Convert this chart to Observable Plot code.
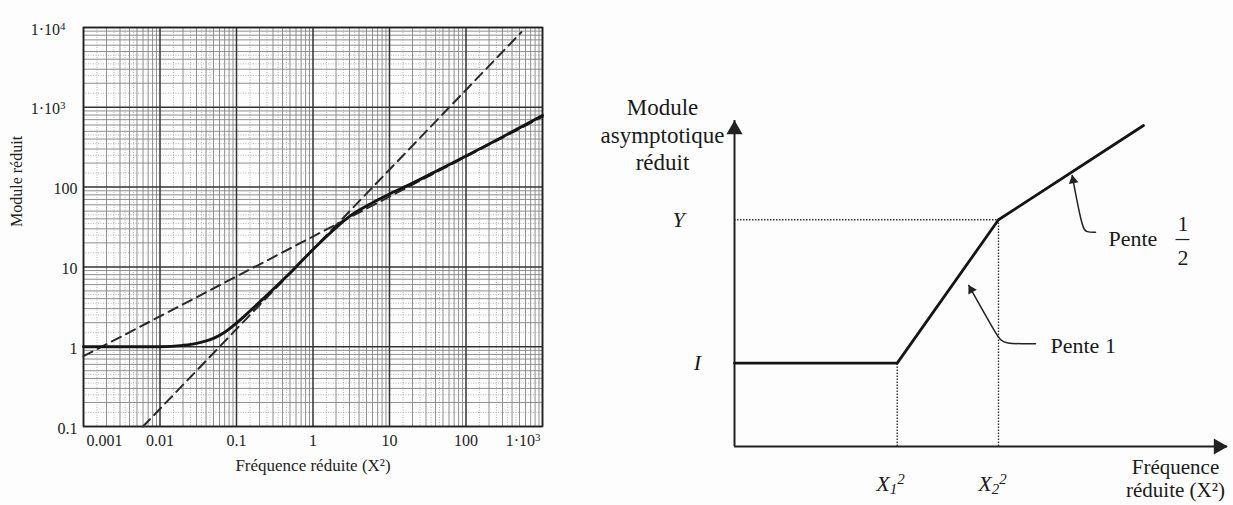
<!DOCTYPE html>
<html><head><meta charset="utf-8">
<script src="https://cdn.jsdelivr.net/npm/d3@7"></script>
<script src="https://cdn.jsdelivr.net/npm/@observablehq/plot@0.6"></script>
<style>
body{margin:0;background:#fdfdfd;}
#wrap{position:relative;width:1233px;height:505px;overflow:hidden;font-family:"Liberation Serif",serif;}
#left{position:absolute;left:0;top:0;}
#right{position:absolute;left:560px;top:0;}
svg text{font-family:"Liberation Serif",serif;}
</style></head><body><div id="wrap"><div id="left"></div><div id="right"></div></div>
<script>
// ---------- Left chart data (log-log) ----------
const xTickValues = [0.001, 0.01, 0.1, 1, 10, 100, 1000];
const xTickLabels = ["0.001", "0.01", "0.1", "1", "10", "100", "1·10^3"];
const yTickValues = [0.1, 1, 10, 100, 1000, 10000];
const yTickLabels = ["0.1", "1", "10", "100", "1·10^3", "1·10^4"];
const xTitle = "Fréquence réduite (X²)";
const yTitle = "Module réduit";

const freq   = [0.001, 0.005, 0.01, 0.02, 0.03, 0.05, 0.07, 0.1, 0.15, 0.23, 0.4, 0.6, 1, 1.5, 2, 3, 5, 7, 10, 20, 50, 100, 300, 1000];
const module = [1.0, 1.0, 1.0, 1.04, 1.1, 1.27, 1.52, 1.98, 2.8, 4.1, 6.8, 10, 16.5, 24, 31, 43, 58, 69, 82, 112, 175, 245, 425, 790];

const asymSlope1X = [0.006, 530];
const asymSlope1Y = [0.1, 8750];
const asymHalfX = [0.001, 1000];
const asymHalfY = [0.76, 760];

// ---------- Right chart data (schematic) ----------
const levelI = 0.581, levelY = 1.581;
const x1sq = 1.627, x2sq = 2.64;
const asymX = [0, x1sq, x2sq, 4.09];
const asymY = [levelI, levelI, levelY, 2.238];
const axisXEnd = 4.93, axisYEnd = 2.273;
const leader1X = [2.343, 2.64, 2.69, 3.01];
const leader1Y = [1.123, 0.753, 0.716, 0.716];
const leaderHalfX = [3.377, 3.477, 3.52, 3.61];
const leaderHalfY = [1.890, 1.520, 1.494, 1.494];
const yAxisTitle = "Module\nasymptotique\nréduit";
const xAxisTitle = "Fréquence\nréduite (X²)";

// ---------- helpers ----------
const SERIF = "Liberation Serif, Times New Roman, serif";
const zip = (xs, ys) => xs.map((x, i) => ({x, y: ys[i]}));
function decadeMultiples(lo, hi, mults) {
  const out = [];
  for (let e = Math.floor(Math.log10(lo)); e <= Math.ceil(Math.log10(hi)); e++) {
    for (const m of mults) { const v = m * Math.pow(10, e); if (v > lo * 1.0001 && v < hi * 0.9999) out.push(v); }
  }
  return out;
}
function richText(svg) {
  svg.querySelectorAll("text, tspan").forEach(el => {
    if (el.children.length) return;
    const s = el.textContent;
    if (!/[_^]/.test(s)) return;
    el.textContent = "";
    const re = /([_^])(.)/g; let last = 0, m;
    const add = (txt, kind) => {
      if (!txt) return;
      const t = document.createElementNS("http://www.w3.org/2000/svg", "tspan");
      t.textContent = txt;
      if (kind) { t.setAttribute("baseline-shift", kind === "^" ? "48%" : "-22%"); t.setAttribute("font-size", "68%"); }
      el.appendChild(t);
    };
    while ((m = re.exec(s))) { add(s.slice(last, m.index)); add(m[2], m[1]); last = re.lastIndex; }
    add(s.slice(last));
  });
}

// ---------- Left chart ----------
const xMinor = decadeMultiples(0.001, 1000, [2,3,4,5,6,7,8,9]);
const yMinor = decadeMultiples(0.1, 10000, [2,3,4,5,6,7,8,9]);
const xFine = decadeMultiples(0.001, 1000, [1.5,2.5,3.5,4.5]);
const yFine = decadeMultiples(0.1, 10000, [1.5,2.5,3.5,4.5]);
const xt = xTickValues.map((v, i) => ({v, label: xTickLabels[i], i}));
const yt = yTickValues.map((v, i) => ({v, label: yTickLabels[i]}));
const tl = {fontFamily: SERIF, fontSize: 16, fill: "#222"};

const left = Plot.plot({
  width: 570, height: 505,
  marginLeft: 83, marginRight: 28, marginTop: 27, marginBottom: 79,
  x: {type: "log", domain: [0.001, 1000], axis: null},
  y: {type: "log", domain: [0.1, 10000], axis: null},
  style: {fontFamily: SERIF, fontSize: "16px", background: "transparent", color: "#222", overflow: "visible"},
  marks: [
    Plot.ruleX(xFine, {stroke: "#9a9a9a", strokeWidth: 0.7, strokeDasharray: "1,1.5"}),
    Plot.ruleY(yFine, {stroke: "#9a9a9a", strokeWidth: 0.7, strokeDasharray: "1,1.5"}),
    Plot.ruleX(xMinor, {stroke: "#858585", strokeWidth: 0.9}),
    Plot.ruleY(yMinor, {stroke: "#858585", strokeWidth: 0.9}),
    Plot.ruleX(xTickValues, {stroke: "#333", strokeWidth: 1.5}),
    Plot.ruleY(yTickValues, {stroke: "#333", strokeWidth: 1.5}),
    Plot.frame({stroke: "#222", strokeWidth: 1.6}),
    Plot.line(zip(asymSlope1X, asymSlope1Y), {x: "x", y: "y", stroke: "#2a2a2a", strokeWidth: 2, strokeDasharray: "10,6"}),
    Plot.line(zip(asymHalfX, asymHalfY), {x: "x", y: "y", stroke: "#2a2a2a", strokeWidth: 2, strokeDasharray: "10,6"}),
    Plot.line(zip(freq, module), {x: "x", y: "y", stroke: "#151515", strokeWidth: 2.9, curve: "monotone-x"}),
    Plot.text(xt.filter(d => d.i === 0), {x: "v", text: "label", frameAnchor: "bottom", dy: 19, textAnchor: "start", dx: 3, ...tl}),
    Plot.text(xt.filter(d => d.i > 0 && d.i < xt.length - 1), {x: "v", text: "label", frameAnchor: "bottom", dy: 19, ...tl}),
    Plot.text(xt.filter(d => d.i === xt.length - 1), {x: "v", text: "label", frameAnchor: "bottom", dy: 19, textAnchor: "end", dx: -2, ...tl}),
    Plot.text(yt.filter(d => !d.label.includes("^")), {y: "v", text: "label", frameAnchor: "left", textAnchor: "end", dx: -6, dy: 2, ...tl}),
    Plot.text(yt.filter(d => d.label.includes("^")), {y: "v", text: "label", frameAnchor: "left", textAnchor: "end", dx: -18, dy: 2, ...tl}),
    Plot.text([xTitle], {frameAnchor: "bottom", dy: 44, ...tl, fontSize: 17}),
    Plot.text([yTitle], {frameAnchor: "left", rotate: -90, dx: -67, ...tl})
  ]
});
richText(left);
document.getElementById("left").appendChild(left);

// ---------- Right chart ----------
const W = 673, H = 505, mL = 174, mR = 6, mT = 120, mB = 59;
const kx = (W - mL - mR) / axisXEnd, ky = (H - mT - mB) / axisYEnd;
function arrowAngle(xs, ys) { // direction from 2nd point to 1st (tip), screen degrees
  const dx = (xs[0] - xs[1]) * kx, dy = -(ys[0] - ys[1]) * ky;
  return Math.atan2(dx, -dy) * 180 / Math.PI;
}
const a1 = arrowAngle(leader1X, leader1Y), aH = arrowAngle(leaderHalfX, leaderHalfY);
const off = (ang, d) => ({dx: -Math.sin(ang * Math.PI / 180) * d, dy: Math.cos(ang * Math.PI / 180) * d});
const tr = {fontFamily: SERIF, fontSize: 22, fill: "#1a1a1a"};

const right = Plot.plot({
  width: W, height: H, marginLeft: mL, marginRight: mR, marginTop: mT, marginBottom: mB,
  x: {domain: [0, axisXEnd], axis: null},
  y: {domain: [0, axisYEnd], axis: null},
  style: {fontFamily: SERIF, fontSize: "22px", background: "transparent", color: "#222", overflow: "visible"},
  marks: [
    Plot.ruleY([levelY], {x1: 0, x2: x2sq, stroke: "#333", strokeWidth: 1.4, strokeDasharray: "1.5,1.5"}),
    Plot.ruleX([x1sq], {y1: 0, y2: levelI, stroke: "#333", strokeWidth: 1.4, strokeDasharray: "1.5,1.5"}),
    Plot.ruleX([x2sq], {y1: 0, y2: levelY, stroke: "#333", strokeWidth: 1.4, strokeDasharray: "1.5,1.5"}),
    Plot.ruleX([0], {y1: 0, y2: axisYEnd, stroke: "#222", strokeWidth: 2}),
    Plot.ruleY([0], {x1: 0, x2: axisXEnd, stroke: "#222", strokeWidth: 2}),
    Plot.dot([{x: 0, y: axisYEnd}], {x: "x", y: "y", symbol: "triangle", r: 6, fill: "#222", stroke: "none", dy: 9}),
    Plot.dot([{x: axisXEnd, y: 0}], {x: "x", y: "y", symbol: "triangle", r: 6, fill: "#222", stroke: "none", rotate: 90, dx: -9}),
    Plot.line(zip(asymX, asymY), {x: "x", y: "y", stroke: "#151515", strokeWidth: 2.8, strokeLinejoin: "miter"}),
    Plot.line(zip(leader1X, leader1Y), {x: "x", y: "y", stroke: "#222", strokeWidth: 1.5, curve: "basis"}),
    Plot.line(zip(leaderHalfX, leaderHalfY), {x: "x", y: "y", stroke: "#222", strokeWidth: 1.5, curve: "basis"}),
    Plot.dot([{x: leader1X[0], y: leader1Y[0]}], {x: "x", y: "y", symbol: "triangle", r: 3.6, fill: "#222", stroke: "none", rotate: a1, ...off(a1, 5)}),
    Plot.dot([{x: leaderHalfX[0], y: leaderHalfY[0]}], {x: "x", y: "y", symbol: "triangle", r: 3.6, fill: "#222", stroke: "none", rotate: aH, ...off(aH, 5)}),
    Plot.text([{x: 3.16, y: 0.704, t: "Pente 1"}], {x: "x", y: "y", text: "t", textAnchor: "start", ...tr}),
    Plot.text([{x: 3.74, y: 1.45, t: "Pente"}], {x: "x", y: "y", text: "t", textAnchor: "start", ...tr}),
    Plot.text([{x: 4.485, y: 1.555, t: "1"}, {x: 4.485, y: 1.318, t: "2"}], {x: "x", y: "y", text: "t", ...tr}),
    Plot.ruleY([1.443], {x1: 4.415, x2: 4.555, stroke: "#222", strokeWidth: 1.2}),
    Plot.text([{x: -0.56, y: levelY, t: "Y"}], {x: "x", y: "y", text: "t", ...tr, fontStyle: "italic"}),
    Plot.text([{x: -0.37, y: levelI, t: "I"}], {x: "x", y: "y", text: "t", ...tr, fontStyle: "italic"}),
    Plot.text([{x: 1.56, y: -0.258, t: "X_1^2"}, {x: 2.58, y: -0.258, t: "X_2^2"}], {x: "x", y: "y", text: "t", ...tr, fontStyle: "italic"}),
    Plot.text([{x: -0.72, y: 2.18, t: yAxisTitle}], {x: "x", y: "y", text: "t", lineHeight: 1.2, ...tr, fontSize: 23}),
    Plot.text([{x: 4.41, y: -0.22, t: xAxisTitle}], {x: "x", y: "y", text: "t", lineHeight: 1.08, ...tr, fontSize: 21})
  ]
});
richText(right);
document.getElementById("right").appendChild(right);
</script></body></html>
